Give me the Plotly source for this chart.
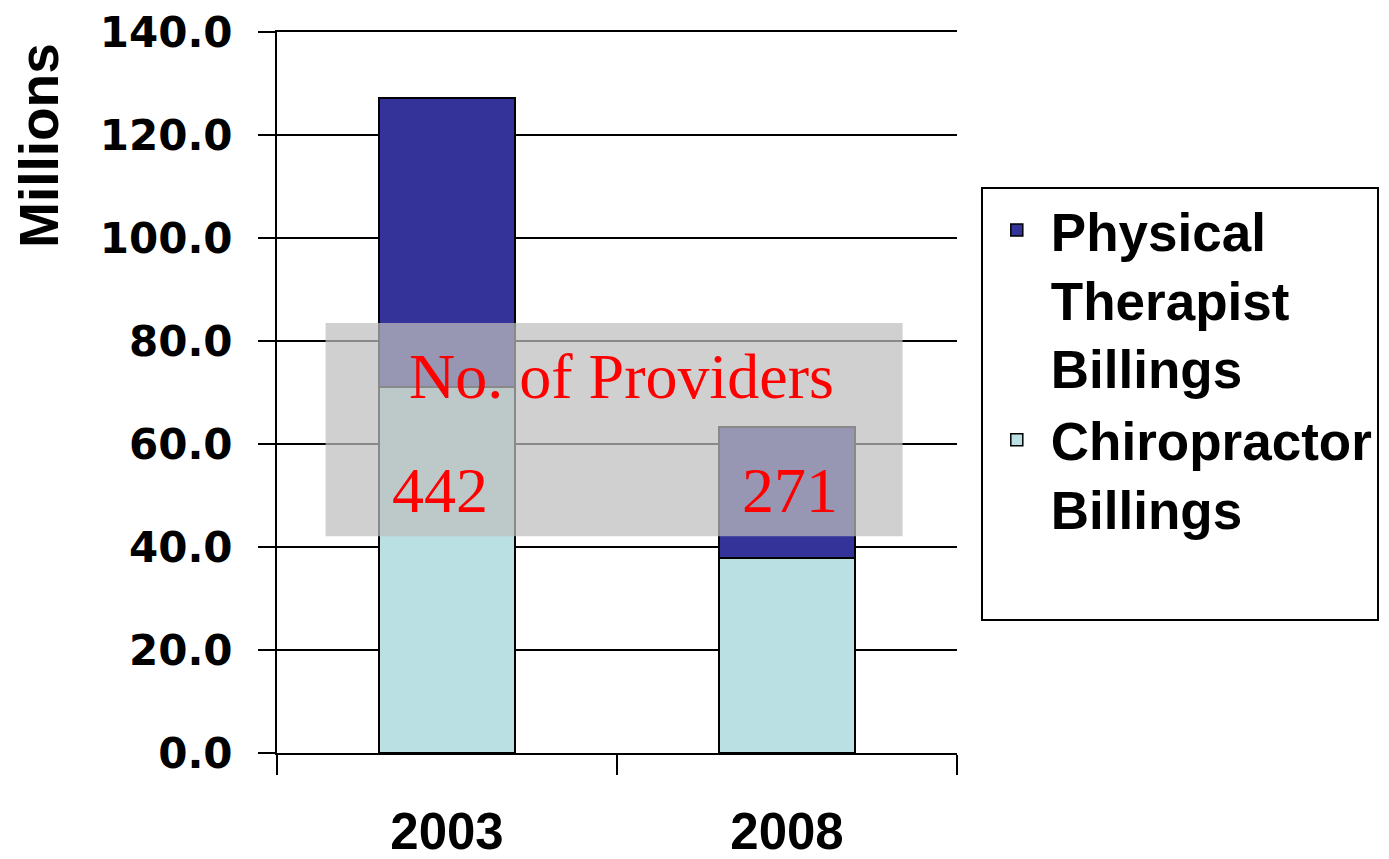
import plotly.graph_objects as go

years = ["2003", "2008"]
chiro = [71.1, 37.9]
pt = [56.1, 25.4]
providers = [442, 271]

fig = go.Figure()
fig.add_trace(go.Bar(x=years, y=chiro, name="Chiropractor<br>Billings<br> ",
                     marker=dict(color="#BBE0E3", line=dict(color="black", width=1.5)),
                     width=0.4))
fig.add_trace(go.Bar(x=years, y=pt, name="Physical<br>Therapist<br>Billings",
                     marker=dict(color="#333399", line=dict(color="black", width=1.5)),
                     width=0.4))

# translucent overlay box
fig.add_shape(type="rect", xref="x", yref="y", x0=-0.357, x1=1.34, y0=42.1, y1=83.5,
              fillcolor="rgba(190,190,190,0.72)", line=dict(width=0), layer="above")

fig.add_annotation(x=0.513, y=73.2, xref="x", yref="y", text="No. of Providers", showarrow=False,
                   font=dict(family="Liberation Serif", size=64, color="#FF0000"))
for i, p in enumerate(providers):
    fig.add_annotation(x=[-0.02, 1.01][i], y=50.9, xref="x", yref="y", text=str(p), showarrow=False,
                       font=dict(family="Liberation Serif", size=64, color="#FF0000"))

fig.add_annotation(x=-0.35, y=0.842, xref="paper", yref="paper", text="<b>Millions</b>",
                   textangle=-90, showarrow=False, xanchor="center", yanchor="middle",
                   font=dict(family="Liberation Sans", size=55, color="black"))

fig.update_layout(
    barmode="stack",
    width=1389, height=859,
    margin=dict(l=269, r=440, t=24, b=114, autoexpand=False),
    plot_bgcolor="white", paper_bgcolor="white",
    showlegend=True,
    legend=dict(x=1.035, y=0.785, xanchor="left", yanchor="top", valign="top",
                bordercolor="black", borderwidth=2, bgcolor="white",
                font=dict(family="Liberation Sans", size=53, color="black", weight="bold"),
                tracegroupgap=8, itemwidth=58),
)
fig.update_xaxes(type="category", range=[-0.5, 1.5], tickson="boundaries", ticks="outside",
                 ticklen=20, tickwidth=2, tickcolor="black", showline=True, linecolor="black",
                 linewidth=2, mirror=True, showgrid=False, ticklabelstandoff=33, automargin=False,
                 tickfont=dict(family="Liberation Sans", size=51, color="black", weight="bold"))
fig.update_yaxes(range=[0, 140], dtick=20, tickformat=".1f", ticks="outside", ticklen=17,
                 tickwidth=2, tickcolor="black", showline=True, linecolor="black", linewidth=2,
                 showgrid=True, gridcolor="black", gridwidth=1.5, zeroline=False,
                 ticklabelstandoff=17, automargin=False, ticklabeloverflow="allow",
                 tickfont=dict(family="DejaVu Sans", size=42, color="black", weight="bold"))

fig.write_html("out.html")
